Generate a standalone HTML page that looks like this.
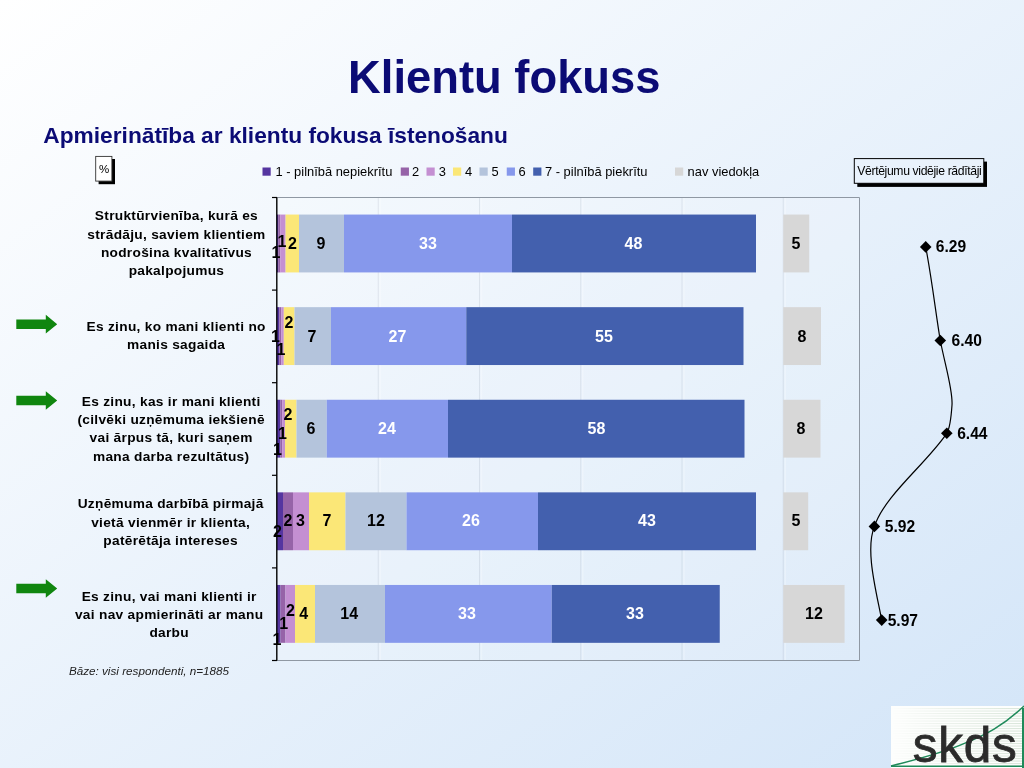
<!DOCTYPE html>
<html lang="lv"><head><meta charset="utf-8"><title>Klientu fokuss</title>
<style>
html,body{margin:0;padding:0;}
body{width:1024px;height:768px;overflow:hidden;background:#fff;}
#slide{position:relative;width:1024px;height:768px;overflow:hidden;background:linear-gradient(to bottom right,#ffffff 0%,#d3e5f8 100%);}
svg{position:absolute;left:0;top:0;}
svg text{font-family:'Liberation Sans', Arial, sans-serif;}
</style></head><body><div id="slide">
<svg width="1024" height="768" viewBox="0 0 1024 768">
<text x="504.3" y="93" text-anchor="middle" font-size="45.35" font-weight="bold" fill="#0b0b75">Klientu fokuss</text>
<text x="43.3" y="143" font-size="22.72" font-weight="bold" fill="#0b0b75">Apmierinātība ar klientu fokusa īstenošanu</text>
<rect x="98.6" y="159" width="16.4" height="25.2" fill="#000"/>
<rect x="95.7" y="156.4" width="16.2" height="24.7" fill="#fff" stroke="#333" stroke-width="0.9"/>
<text x="104.2" y="172.6" text-anchor="middle" font-size="11.5">%</text>
<rect x="262.50" y="167.5" width="8.2" height="8.2" fill="#5535a0"/>
<text x="275.50" y="176" font-size="12.90" fill="#000">1 - pilnībā nepiekrītu</text>
<rect x="400.75" y="167.5" width="8.2" height="8.2" fill="#9663a8"/>
<text x="412.00" y="176" font-size="12.90" fill="#000">2</text>
<rect x="426.50" y="167.5" width="8.2" height="8.2" fill="#c48fd2"/>
<text x="438.75" y="176" font-size="12.90" fill="#000">3</text>
<rect x="453.00" y="167.5" width="8.2" height="8.2" fill="#fbe777"/>
<text x="465.00" y="176" font-size="12.90" fill="#000">4</text>
<rect x="479.50" y="167.5" width="8.2" height="8.2" fill="#b4c4dc"/>
<text x="491.50" y="176" font-size="12.90" fill="#000">5</text>
<rect x="506.75" y="167.5" width="8.2" height="8.2" fill="#8698ec"/>
<text x="518.50" y="176" font-size="12.90" fill="#000">6</text>
<rect x="533.20" y="167.5" width="8.2" height="8.2" fill="#4360ae"/>
<text x="545.00" y="176" font-size="12.90" fill="#000">7 - pilnībā piekrītu</text>
<rect x="675.00" y="167.5" width="8.2" height="8.2" fill="#d7d7d7"/>
<text x="687.60" y="176" font-size="12.90" fill="#000">nav viedokļa</text>
<rect x="277.00" y="197.50" width="582.50" height="463.00" fill="#ffffff" fill-opacity="0.13"/>
<line x1="378.25" y1="197.50" x2="378.25" y2="660.50" stroke="#5a6a80" stroke-opacity="0.13" stroke-width="1"/>
<line x1="380.25" y1="197.50" x2="380.25" y2="660.50" stroke="#ffffff" stroke-opacity="0.25" stroke-width="1.5"/>
<line x1="479.50" y1="197.50" x2="479.50" y2="660.50" stroke="#5a6a80" stroke-opacity="0.13" stroke-width="1"/>
<line x1="481.50" y1="197.50" x2="481.50" y2="660.50" stroke="#ffffff" stroke-opacity="0.25" stroke-width="1.5"/>
<line x1="580.75" y1="197.50" x2="580.75" y2="660.50" stroke="#5a6a80" stroke-opacity="0.13" stroke-width="1"/>
<line x1="582.75" y1="197.50" x2="582.75" y2="660.50" stroke="#ffffff" stroke-opacity="0.25" stroke-width="1.5"/>
<line x1="682.00" y1="197.50" x2="682.00" y2="660.50" stroke="#5a6a80" stroke-opacity="0.13" stroke-width="1"/>
<line x1="684.00" y1="197.50" x2="684.00" y2="660.50" stroke="#ffffff" stroke-opacity="0.25" stroke-width="1.5"/>
<line x1="783.25" y1="197.50" x2="783.25" y2="660.50" stroke="#5a6a80" stroke-opacity="0.13" stroke-width="1"/>
<line x1="785.25" y1="197.50" x2="785.25" y2="660.50" stroke="#ffffff" stroke-opacity="0.25" stroke-width="1.5"/>
<polyline points="277.00,197.50 859.50,197.50 859.50,660.50 277.00,660.50" fill="none" stroke="#8f98a3" stroke-width="1"/>
<rect x="277.00" y="214.56" width="1.20" height="57.87" fill="#5535a0"/>
<rect x="278.20" y="214.56" width="2.00" height="57.87" fill="#9663a8"/>
<rect x="280.20" y="214.56" width="5.40" height="57.87" fill="#c48fd2"/>
<rect x="285.60" y="214.56" width="13.40" height="57.87" fill="#fbe777"/>
<rect x="299.00" y="214.56" width="45.00" height="57.87" fill="#b4c4dc"/>
<rect x="344.00" y="214.56" width="168.00" height="57.87" fill="#8698ec"/>
<rect x="512.00" y="214.56" width="244.00" height="57.87" fill="#4360ae"/>
<rect x="783.25" y="214.56" width="26.00" height="57.87" fill="#d7d7d7"/>
<rect x="277.00" y="307.16" width="2.30" height="57.87" fill="#5535a0"/>
<rect x="279.30" y="307.16" width="2.00" height="57.87" fill="#9663a8"/>
<rect x="281.30" y="307.16" width="2.50" height="57.87" fill="#c48fd2"/>
<rect x="283.80" y="307.16" width="10.70" height="57.87" fill="#fbe777"/>
<rect x="294.50" y="307.16" width="36.50" height="57.87" fill="#b4c4dc"/>
<rect x="331.00" y="307.16" width="135.25" height="57.87" fill="#8698ec"/>
<rect x="466.25" y="307.16" width="277.25" height="57.87" fill="#4360ae"/>
<rect x="783.25" y="307.16" width="37.75" height="57.87" fill="#d7d7d7"/>
<rect x="277.00" y="399.76" width="3.40" height="57.87" fill="#5535a0"/>
<rect x="280.40" y="399.76" width="1.80" height="57.87" fill="#9663a8"/>
<rect x="282.20" y="399.76" width="2.80" height="57.87" fill="#c48fd2"/>
<rect x="285.00" y="399.76" width="11.50" height="57.87" fill="#fbe777"/>
<rect x="296.50" y="399.76" width="30.25" height="57.87" fill="#b4c4dc"/>
<rect x="326.75" y="399.76" width="121.25" height="57.87" fill="#8698ec"/>
<rect x="448.00" y="399.76" width="296.50" height="57.87" fill="#4360ae"/>
<rect x="783.25" y="399.76" width="37.25" height="57.87" fill="#d7d7d7"/>
<rect x="277.00" y="492.36" width="6.00" height="57.87" fill="#5535a0"/>
<rect x="283.00" y="492.36" width="10.00" height="57.87" fill="#9663a8"/>
<rect x="293.00" y="492.36" width="16.00" height="57.87" fill="#c48fd2"/>
<rect x="309.00" y="492.36" width="36.50" height="57.87" fill="#fbe777"/>
<rect x="345.50" y="492.36" width="61.00" height="57.87" fill="#b4c4dc"/>
<rect x="406.50" y="492.36" width="131.50" height="57.87" fill="#8698ec"/>
<rect x="538.00" y="492.36" width="218.00" height="57.87" fill="#4360ae"/>
<rect x="783.25" y="492.36" width="24.95" height="57.87" fill="#d7d7d7"/>
<rect x="277.00" y="584.96" width="3.50" height="57.87" fill="#5535a0"/>
<rect x="280.50" y="584.96" width="5.00" height="57.87" fill="#9663a8"/>
<rect x="285.50" y="584.96" width="9.50" height="57.87" fill="#c48fd2"/>
<rect x="295.00" y="584.96" width="20.00" height="57.87" fill="#fbe777"/>
<rect x="315.00" y="584.96" width="70.00" height="57.87" fill="#b4c4dc"/>
<rect x="385.00" y="584.96" width="166.75" height="57.87" fill="#8698ec"/>
<rect x="551.75" y="584.96" width="168.00" height="57.87" fill="#4360ae"/>
<rect x="783.25" y="584.96" width="61.35" height="57.87" fill="#d7d7d7"/>
<line x1="276.80" y1="197.50" x2="276.80" y2="660.50" stroke="#000" stroke-width="1.4"/>
<line x1="272.00" y1="197.50" x2="277.00" y2="197.50" stroke="#000" stroke-width="1.2"/>
<line x1="272.00" y1="290.10" x2="277.00" y2="290.10" stroke="#000" stroke-width="1.2"/>
<line x1="272.00" y1="382.70" x2="277.00" y2="382.70" stroke="#000" stroke-width="1.2"/>
<line x1="272.00" y1="475.30" x2="277.00" y2="475.30" stroke="#000" stroke-width="1.2"/>
<line x1="272.00" y1="567.90" x2="277.00" y2="567.90" stroke="#000" stroke-width="1.2"/>
<line x1="272.00" y1="660.50" x2="277.00" y2="660.50" stroke="#000" stroke-width="1.2"/>
<text x="276.00" y="257.73" text-anchor="middle" font-size="16.00" font-weight="bold" fill="#000">1</text>
<text x="282.00" y="246.73" text-anchor="middle" font-size="16.00" font-weight="bold" fill="#000">1</text>
<text x="292.50" y="248.73" text-anchor="middle" font-size="16.00" font-weight="bold" fill="#000">2</text>
<text x="321.00" y="248.73" text-anchor="middle" font-size="16.00" font-weight="bold" fill="#000">9</text>
<text x="428.00" y="248.73" text-anchor="middle" font-size="16.00" font-weight="bold" fill="#fff">33</text>
<text x="633.50" y="248.73" text-anchor="middle" font-size="16.00" font-weight="bold" fill="#fff">48</text>
<text x="796.00" y="248.73" text-anchor="middle" font-size="16.00" font-weight="bold" fill="#000">5</text>
<text x="275.50" y="341.73" text-anchor="middle" font-size="16.00" font-weight="bold" fill="#000">1</text>
<text x="281.00" y="355.23" text-anchor="middle" font-size="16.00" font-weight="bold" fill="#000">1</text>
<text x="289.00" y="327.73" text-anchor="middle" font-size="16.00" font-weight="bold" fill="#000">2</text>
<text x="312.00" y="341.73" text-anchor="middle" font-size="16.00" font-weight="bold" fill="#000">7</text>
<text x="397.50" y="341.73" text-anchor="middle" font-size="16.00" font-weight="bold" fill="#fff">27</text>
<text x="604.00" y="341.73" text-anchor="middle" font-size="16.00" font-weight="bold" fill="#fff">55</text>
<text x="802.00" y="341.73" text-anchor="middle" font-size="16.00" font-weight="bold" fill="#000">8</text>
<text x="277.50" y="455.23" text-anchor="middle" font-size="16.00" font-weight="bold" fill="#000">1</text>
<text x="282.50" y="438.73" text-anchor="middle" font-size="16.00" font-weight="bold" fill="#000">1</text>
<text x="288.00" y="420.23" text-anchor="middle" font-size="16.00" font-weight="bold" fill="#000">2</text>
<text x="311.00" y="433.53" text-anchor="middle" font-size="16.00" font-weight="bold" fill="#000">6</text>
<text x="387.00" y="433.53" text-anchor="middle" font-size="16.00" font-weight="bold" fill="#fff">24</text>
<text x="596.50" y="433.53" text-anchor="middle" font-size="16.00" font-weight="bold" fill="#fff">58</text>
<text x="801.00" y="433.53" text-anchor="middle" font-size="16.00" font-weight="bold" fill="#000">8</text>
<text x="277.50" y="537.23" text-anchor="middle" font-size="16.00" font-weight="bold" fill="#000">2</text>
<text x="288.00" y="526.23" text-anchor="middle" font-size="16.00" font-weight="bold" fill="#000">2</text>
<text x="300.50" y="526.23" text-anchor="middle" font-size="16.00" font-weight="bold" fill="#000">3</text>
<text x="327.00" y="526.23" text-anchor="middle" font-size="16.00" font-weight="bold" fill="#000">7</text>
<text x="376.00" y="526.23" text-anchor="middle" font-size="16.00" font-weight="bold" fill="#000">12</text>
<text x="471.00" y="526.23" text-anchor="middle" font-size="16.00" font-weight="bold" fill="#fff">26</text>
<text x="647.00" y="526.23" text-anchor="middle" font-size="16.00" font-weight="bold" fill="#fff">43</text>
<text x="796.00" y="526.23" text-anchor="middle" font-size="16.00" font-weight="bold" fill="#000">5</text>
<text x="277.00" y="645.23" text-anchor="middle" font-size="16.00" font-weight="bold" fill="#000">1</text>
<text x="283.75" y="629.48" text-anchor="middle" font-size="16.00" font-weight="bold" fill="#000">1</text>
<text x="290.50" y="615.73" text-anchor="middle" font-size="16.00" font-weight="bold" fill="#000">2</text>
<text x="303.75" y="618.93" text-anchor="middle" font-size="16.00" font-weight="bold" fill="#000">4</text>
<text x="349.25" y="618.93" text-anchor="middle" font-size="16.00" font-weight="bold" fill="#000">14</text>
<text x="467.00" y="618.93" text-anchor="middle" font-size="16.00" font-weight="bold" fill="#fff">33</text>
<text x="635.00" y="618.93" text-anchor="middle" font-size="16.00" font-weight="bold" fill="#fff">33</text>
<text x="814.00" y="618.93" text-anchor="middle" font-size="16.00" font-weight="bold" fill="#000">12</text>
<text x="176.45" y="220.30" text-anchor="middle" font-size="13.70" letter-spacing="0.3" font-weight="bold" fill="#000">Struktūrvienība, kurā es</text>
<text x="176.45" y="238.50" text-anchor="middle" font-size="13.70" letter-spacing="0.3" font-weight="bold" fill="#000">strādāju, saviem klientiem</text>
<text x="176.45" y="256.70" text-anchor="middle" font-size="13.70" letter-spacing="0.3" font-weight="bold" fill="#000">nodrošina kvalitatīvus</text>
<text x="176.45" y="274.90" text-anchor="middle" font-size="13.70" letter-spacing="0.3" font-weight="bold" fill="#000">pakalpojumus</text>
<text x="176.15" y="330.80" text-anchor="middle" font-size="13.70" letter-spacing="0.3" font-weight="bold" fill="#000">Es zinu, ko mani klienti no</text>
<text x="176.15" y="349.00" text-anchor="middle" font-size="13.70" letter-spacing="0.3" font-weight="bold" fill="#000">manis sagaida</text>
<text x="171.15" y="405.90" text-anchor="middle" font-size="13.70" letter-spacing="0.3" font-weight="bold" fill="#000">Es zinu, kas ir mani klienti</text>
<text x="171.15" y="424.10" text-anchor="middle" font-size="13.70" letter-spacing="0.3" font-weight="bold" fill="#000">(cilvēki uzņēmuma iekšienē</text>
<text x="171.15" y="442.30" text-anchor="middle" font-size="13.70" letter-spacing="0.3" font-weight="bold" fill="#000">vai ārpus tā, kuri saņem</text>
<text x="171.15" y="460.50" text-anchor="middle" font-size="13.70" letter-spacing="0.3" font-weight="bold" fill="#000">mana darba rezultātus)</text>
<text x="170.65" y="508.30" text-anchor="middle" font-size="13.70" letter-spacing="0.3" font-weight="bold" fill="#000">Uzņēmuma darbībā pirmajā</text>
<text x="170.65" y="526.50" text-anchor="middle" font-size="13.70" letter-spacing="0.3" font-weight="bold" fill="#000">vietā vienmēr ir klienta,</text>
<text x="170.65" y="544.70" text-anchor="middle" font-size="13.70" letter-spacing="0.3" font-weight="bold" fill="#000">patērētāja intereses</text>
<text x="169.15" y="600.80" text-anchor="middle" font-size="13.70" letter-spacing="0.3" font-weight="bold" fill="#000">Es zinu, vai mani klienti ir</text>
<text x="169.15" y="619.00" text-anchor="middle" font-size="13.70" letter-spacing="0.3" font-weight="bold" fill="#000">vai nav apmierināti ar manu</text>
<text x="169.15" y="637.20" text-anchor="middle" font-size="13.70" letter-spacing="0.3" font-weight="bold" fill="#000">darbu</text>
<path d="M16.3 319.50 H45.8 V314.85 L57.2 324.20 L45.8 333.55 V328.90 H16.3 Z" fill="#10860f"/>
<path d="M16.3 395.80 H45.8 V391.15 L57.2 400.50 L45.8 409.85 V405.20 H16.3 Z" fill="#10860f"/>
<path d="M16.3 583.80 H45.8 V579.15 L57.2 588.50 L45.8 597.85 V593.20 H16.3 Z" fill="#10860f"/>
<text x="68.9" y="674.7" font-size="11.7" font-style="italic" fill="#222">Bāze: visi respondenti, n=1885</text>
<rect x="857.3" y="161.6" width="129.7" height="25.3" fill="#000"/>
<rect x="854.3" y="158.6" width="129.5" height="24.7" fill="#e9f2fc" stroke="#000" stroke-width="1"/>
<text x="919.3" y="175" text-anchor="middle" font-size="12.2" letter-spacing="-0.36" fill="#000">Vērtējumu vidējie rādītāji</text>
<path d="M925.7 246.9 C 932 280, 936 315, 940.3 340.5 C 945 365, 953 390, 952 405 C 951 420, 950 428, 946.8 433.3 C 925 465, 885 495, 874.4 526.4 C 865 550, 876 590, 881.7 620.1" fill="none" stroke="#000" stroke-width="1.2"/>
<path d="M925.70 241.10 l5.8 5.8 l-5.8 5.8 l-5.8 -5.8 Z" fill="#000"/>
<text x="935.80" y="252.40" font-size="15.60" font-weight="bold" fill="#000">6.29</text>
<path d="M940.30 334.70 l5.8 5.8 l-5.8 5.8 l-5.8 -5.8 Z" fill="#000"/>
<text x="951.50" y="346.00" font-size="15.60" font-weight="bold" fill="#000">6.40</text>
<path d="M946.80 427.50 l5.8 5.8 l-5.8 5.8 l-5.8 -5.8 Z" fill="#000"/>
<text x="957.20" y="438.80" font-size="15.60" font-weight="bold" fill="#000">6.44</text>
<path d="M874.40 520.60 l5.8 5.8 l-5.8 5.8 l-5.8 -5.8 Z" fill="#000"/>
<text x="884.80" y="531.90" font-size="15.60" font-weight="bold" fill="#000">5.92</text>
<path d="M881.70 614.30 l5.8 5.8 l-5.8 5.8 l-5.8 -5.8 Z" fill="#000"/>
<text x="887.70" y="625.60" font-size="15.60" font-weight="bold" fill="#000">5.97</text>
<defs><linearGradient id="lg" x1="0" y1="0" x2="1" y2="0"><stop offset="0" stop-color="#dfe9df" stop-opacity="0"/><stop offset="0.35" stop-color="#dfe9df" stop-opacity="0.5"/><stop offset="1" stop-color="#d9e6da" stop-opacity="1"/></linearGradient></defs>
<g>
<rect x="891" y="706" width="133" height="62" fill="#fdfefd"/>
<rect x="891" y="708.0" width="133" height="1.1" fill="url(#lg)"/>
<rect x="891" y="710.5" width="133" height="1.1" fill="url(#lg)"/>
<rect x="891" y="713.0" width="133" height="1.1" fill="url(#lg)"/>
<rect x="891" y="715.5" width="133" height="1.1" fill="url(#lg)"/>
<rect x="891" y="718.0" width="133" height="1.1" fill="url(#lg)"/>
<rect x="891" y="720.5" width="133" height="1.1" fill="url(#lg)"/>
<rect x="891" y="723.0" width="133" height="1.1" fill="url(#lg)"/>
<rect x="891" y="725.5" width="133" height="1.1" fill="url(#lg)"/>
<rect x="891" y="728.0" width="133" height="1.1" fill="url(#lg)"/>
<rect x="891" y="730.5" width="133" height="1.1" fill="url(#lg)"/>
<rect x="891" y="733.0" width="133" height="1.1" fill="url(#lg)"/>
<rect x="891" y="735.5" width="133" height="1.1" fill="url(#lg)"/>
<rect x="891" y="738.0" width="133" height="1.1" fill="url(#lg)"/>
<rect x="891" y="740.5" width="133" height="1.1" fill="url(#lg)"/>
<rect x="891" y="743.0" width="133" height="1.1" fill="url(#lg)"/>
<rect x="891" y="745.5" width="133" height="1.1" fill="url(#lg)"/>
<rect x="891" y="748.0" width="133" height="1.1" fill="url(#lg)"/>
<rect x="891" y="750.5" width="133" height="1.1" fill="url(#lg)"/>
<rect x="891" y="753.0" width="133" height="1.1" fill="url(#lg)"/>
<rect x="891" y="755.5" width="133" height="1.1" fill="url(#lg)"/>
<rect x="891" y="758.0" width="133" height="1.1" fill="url(#lg)"/>
<rect x="891" y="760.5" width="133" height="1.1" fill="url(#lg)"/>
<rect x="891" y="763.0" width="133" height="1.1" fill="url(#lg)"/>
<rect x="891" y="765.5" width="133" height="1.1" fill="url(#lg)"/>
<path d="M891 766 C 915 760, 945 752, 964.4 743.4 C 985 735, 1003 726, 1024 706" fill="none" stroke="#1f8a5a" stroke-width="1.5"/>
<line x1="891" y1="766.3" x2="1024" y2="766.3" stroke="#1f8a5a" stroke-width="1.6"/>
<line x1="1023" y1="708" x2="1023" y2="768" stroke="#1f8a5a" stroke-width="2"/>
<text x="912.7" y="762.2" font-size="49.5" letter-spacing="0.8" fill="#2b2b2b" stroke="#2b2b2b" stroke-width="0.8">skds</text>
</g>
</svg>
</div></body></html>
